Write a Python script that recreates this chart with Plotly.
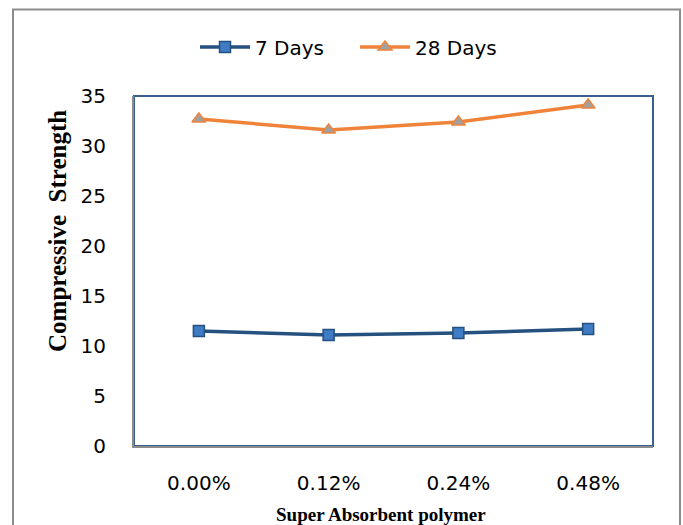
import plotly.graph_objects as go

categories = ["0.00%", "0.12%", "0.24%", "0.48%"]
days7 = [11.5, 11.1, 11.3, 11.7]
days28 = [32.7, 31.6, 32.4, 34.1]
y_ticks = [0, 5, 10, 15, 20, 25, 30, 35]

L, R, T, B = 134, 30, 96, 79
PW, PH = 683 - L - R, 525 - T - B

fig = go.Figure()
fig.add_trace(go.Scatter(
    x=categories, y=days7, name="7 Days", mode="lines+markers",
    line=dict(color="#24517F", width=3.5),
    marker=dict(symbol="square", size=11, color="#3F7CC4", line=dict(color="#24517F", width=1.5)),
))
fig.add_trace(go.Scatter(
    x=categories, y=days28, name="28 Days", mode="lines+markers",
    line=dict(color="#F0833A", width=3.5),
    marker=dict(symbol="triangle-up", size=12, color="#A0A0A0", line=dict(color="#F0833A", width=1.5)),
))

fig.update_layout(
    width=683, height=525,
    margin=dict(l=L, r=R, t=T, b=B),
    paper_bgcolor="white", plot_bgcolor="white",
    font=dict(family="DejaVu Sans, sans-serif", color="black", size=20),
    showlegend=True,
    legend=dict(orientation="h", x=(195 - L) / PW, xanchor="left",
                y=(446 - 47) / PH, yanchor="middle", font=dict(size=20),
                itemwidth=50, entrywidth=95),
    xaxis=dict(range=[-0.5, 3.5], showgrid=False, showline=True, linecolor="#8C8C8C", linewidth=2,
               ticks="outside", ticklen=18, tickcolor="white", tickfont=dict(size=20)),
    yaxis=dict(range=[0, 35], tickvals=y_ticks, showgrid=False, showline=True,
               linecolor="#8C8C8C", linewidth=2, ticks="outside", ticklen=22,
               tickcolor="white", tickfont=dict(size=20)),
    annotations=[
        dict(text="<b>Compressive  Strength</b>", textangle=-90, showarrow=False,
             xref="paper", yref="paper", x=(57 - L) / PW, y=(446 - 231) / PH,
             xanchor="center", yanchor="middle",
             font=dict(family="Liberation Serif, Times New Roman, serif", size=25)),
        dict(text="<b>Super Absorbent polymer</b>", showarrow=False,
             xref="paper", yref="paper", x=(381 - L) / PW, y=(446 - 514) / PH,
             xanchor="center", yanchor="middle",
             font=dict(family="Liberation Serif, Times New Roman, serif", size=19)),
    ],
    shapes=[
        dict(type="rect", xref="paper", yref="paper", x0=0, x1=1, y0=0, y1=1,
             line=dict(color="#3B5F8E", width=2), layer="below"),
        dict(type="rect", xref="paper", yref="paper",
             x0=(13 - L) / PW, x1=(680 - L) / PW, y0=-(B + 20) / PH, y1=(446 - 9.5) / PH,
             line=dict(color="#8C8C8C", width=2), layer="below"),
    ],
)
fig.write_html("out.html", config={"displayModeBar": False},
               post_script="document.body.style.margin='0';document.body.style.overflow='hidden';")
